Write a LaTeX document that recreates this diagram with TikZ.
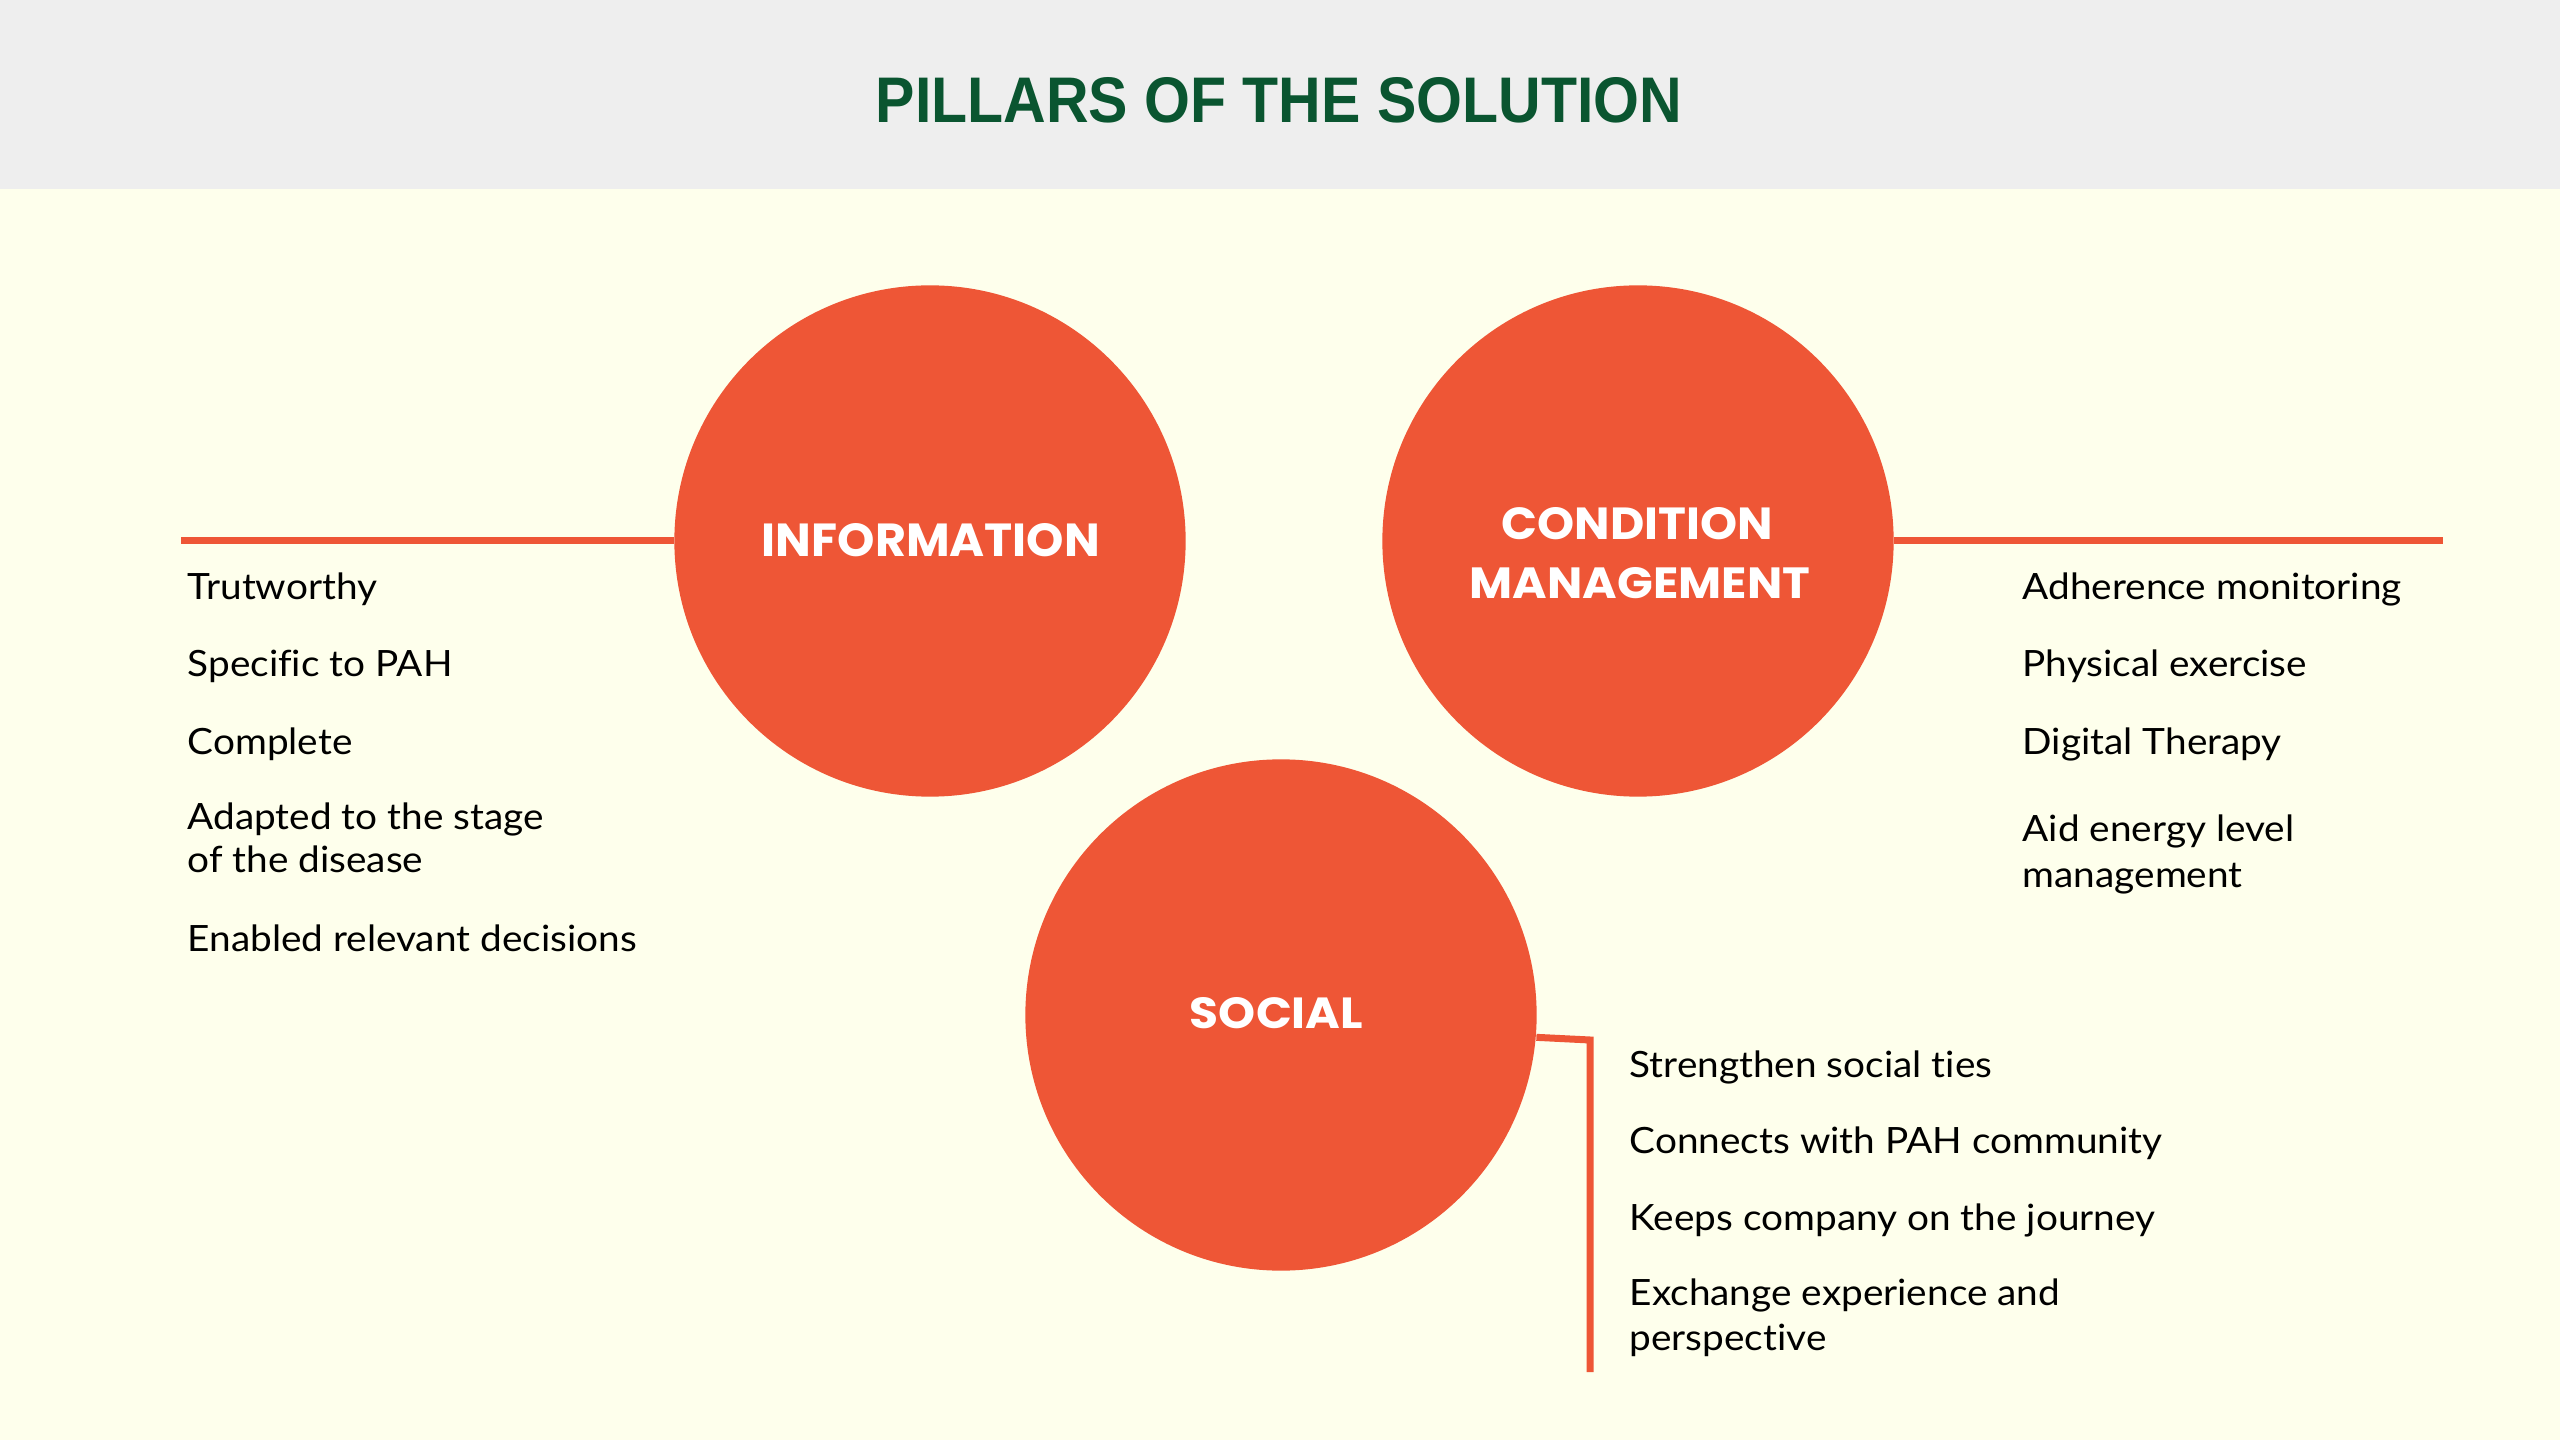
\documentclass[tikz,border=0pt]{standalone}
\usepackage{fontspec}
\setmainfont{Lato}[FakeStretch=1.07, Ligatures=NoCommon]
\newfontfamily\titlefont{Liberation Sans}
\newfontfamily\pillarfont{Poppins}
\definecolor{pillarorange}{HTML}{EE5636}
\definecolor{titlegreen}{HTML}{0A5530}
\definecolor{creambg}{HTML}{FEFFEC}
\definecolor{headgray}{HTML}{EEEEEE}
\begin{document}
\begin{tikzpicture}[x=0.01cm,y=-0.01cm,
  pillar/.style={circle, fill=pillarorange, minimum size=5.11cm, inner sep=0pt},
  lbl/.style={text=white, inner sep=0pt, font=\pillarfont\bfseries},
  item/.style={anchor=base west, inner sep=0pt, text=black, font=\fontsize{10.3pt}{12.6pt}\selectfont},
  conn/.style={draw=pillarorange, line width=0.07cm, line join=miter}]
\useasboundingbox (0,0) rectangle (2560,1440);
\fill[creambg] (0,0) rectangle (2560,1440);
\fill[headgray] (0,0) rectangle (2560,189);
\node[inner sep=0pt, text=titlegreen] (title) at (1279,100.5)
  {\resizebox{8.06cm}{0.45cm}{\titlefont\bfseries PILLARS OF THE SOLUTION}};

% circles
\node[pillar] (info) at (930,541) {};
\node[pillar] (cond) at (1638,541) {};
\node[pillar] (social) at (1281,1015) {};

\node[lbl] (infot) at (931,540) {\resizebox{3.38cm}{0.33cm}{INFORMATION}};
\node[lbl] (condt1) at (1637.5,524) {\resizebox{2.71cm}{0.32cm}{CONDITION}};
\node[lbl] (condt2) at (1640,583) {\resizebox{3.40cm}{0.31cm}{MANAGEMENT}};
\node[lbl] (socialt) at (1276.5,1013) {\resizebox{1.73cm}{0.31cm}{SOCIAL}};

% connectors
\coordinate (lend) at (181,541);
\coordinate (rend) at (2443,541);
\coordinate (sknee) at (1590,1040);
\coordinate (send) at (1590,1372);
\draw[conn] (lend) -- (info.west);
\draw[conn] (cond.east) -- (rend);
\draw[conn] (social.-5.6) -- (sknee) -- (send);

% information items
\node[item] (i1) at (187,600) {Trutworthy};
\node[item] (i2) at (187,677) {Specific to PAH};
\node[item] (i3) at (187,755) {Complete};
\node[item] (i4a) at (187,830) {Adapted to the stage};
\node[item] (i4b) at (187,873) {of the disease};
\node[item] (i5) at (187,952) {Enabled relevant decisions};

% condition management items
\node[item] (c1) at (2022,600) {Adherence monitoring};
\node[item] (c2) at (2022,677) {Physical exercise};
\node[item] (c3) at (2022,755) {Digital Therapy};
\node[item] (c4a) at (2022,842) {Aid energy level};
\node[item] (c4b) at (2022,887) {management};

% social items
\node[item] (s1) at (1629,1077) {Strengthen social ties};
\node[item] (s2) at (1629,1153) {Connects with PAH community};
\node[item] (s3) at (1629,1230) {Keeps company on the journey};
\node[item] (s4a) at (1629,1305) {Exchange experience and};
\node[item] (s4b) at (1629,1350) {perspective};
\end{tikzpicture}
\end{document}
